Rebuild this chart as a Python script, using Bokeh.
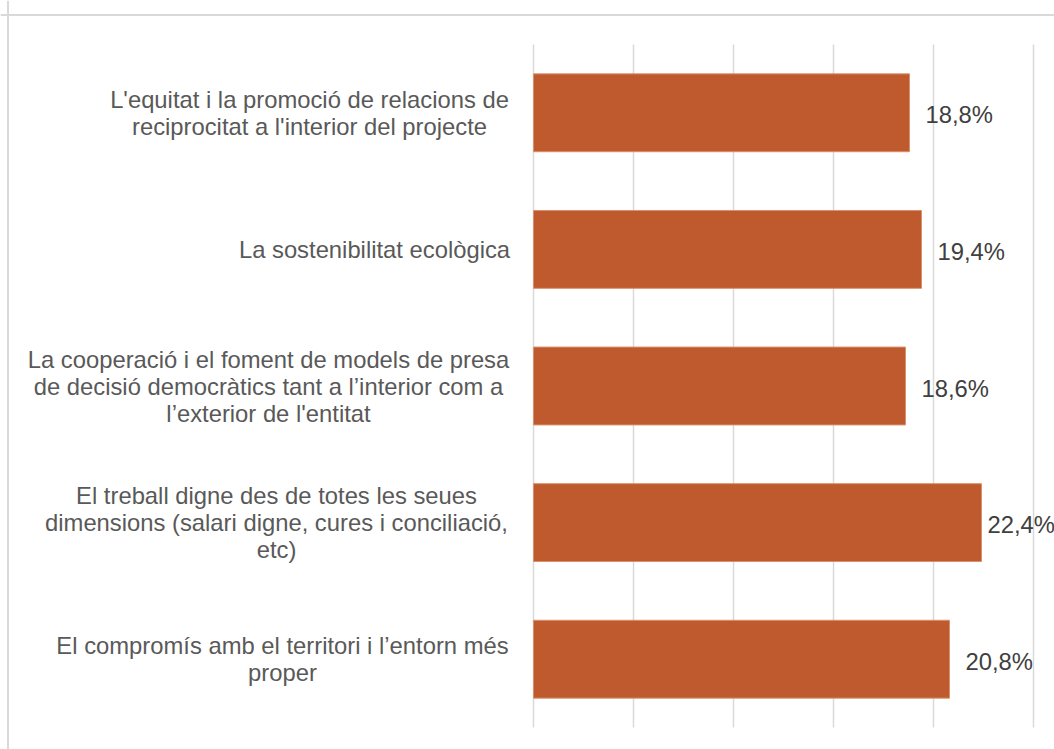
from bokeh.plotting import figure
from bokeh.models import Range1d, Span, ColumnDataSource
from bokeh.core.properties import value
from bokeh.embed import file_html
from bokeh.resources import INLINE

# ---- data ----
categories = [
    "L'equitat i la promoció de relacions de\nreciprocitat a l'interior del projecte",
    "La sostenibilitat ecològica",
    "La cooperació i el foment de models de presa\nde decisió democràtics tant a l’interior com a\nl’exterior de l'entitat",
    "El treball digne des de totes les seues\ndimensions (salari digne, cures i conciliació,\netc)",
    "El compromís amb el territori i l’entorn més\nproper",
]
values = [18.8, 19.4, 18.6, 22.4, 20.8]
value_labels = ["18,8%", "19,4%", "18,6%", "22,4%", "20,8%"]
grid_ticks = [0, 5, 10, 15, 20, 25]

# ---- layout (pixels on the canvas) ----
W, H = 1054, 749
X0_PX = 533          # canvas x of 0%
PX_PER_UNIT_X = 20.0 # pixels per percentage point
PLOT_TOP_PX, PLOT_BOT_PX = 44, 727
n = len(categories)
PX_PER_CAT = (PLOT_BOT_PX - PLOT_TOP_PX) / n

x_start = -X0_PX / PX_PER_UNIT_X
x_end = (W - X0_PX) / PX_PER_UNIT_X
y_top = -0.5 - PLOT_TOP_PX / PX_PER_CAT
y_bot = (n - 0.5) + (H - PLOT_BOT_PX) / PX_PER_CAT

def px_to_x(px):
    return (px - X0_PX) / PX_PER_UNIT_X

# horizontal centres of the category label blocks (canvas px)
label_center_px = [309, 374, 268, 276, 282]
# gap between bar end and its value label (px); Excel pulls the widest one in
label_gap_px = [16, 16, 16, 6, 16]

idx = list(range(n))

p = figure(width=W, height=H, output_backend="svg", toolbar_location=None,
           x_range=Range1d(x_start, x_end), y_range=Range1d(y_bot, y_top),
           min_border=0, min_border_left=0, min_border_right=0,
           min_border_top=0, min_border_bottom=0)
p.axis.visible = False
p.grid.visible = False
p.outline_line_color = None
p.background_fill_color = "white"
p.border_fill_color = "white"

# gridlines spanning the category area
p.segment(x0=grid_ticks, x1=grid_ticks, y0=[-0.5] * len(grid_ticks),
          y1=[n - 0.5] * len(grid_ticks), line_color="#d9d9d9", line_width=1.5)

src = ColumnDataSource(dict(y=idx, v=values, lab=value_labels, cat=categories,
                            gap=label_gap_px,
                            cx=[px_to_x(c) for c in label_center_px]))

p.hbar(y="y", left=0, right="v", height=0.57, source=src,
       fill_color="#BE5A2E", line_color="#D9916B", line_width=1)

p.text(x="v", y="y", text="lab", source=src, x_offset="gap", y_offset=2,
       text_align="left", text_baseline="middle",
       text_font=value("Liberation Sans"), text_font_size="23.8px",
       text_color="#404040")

p.text(x="cx", y="y", text="cat", source=src,
       text_align="center", text_baseline="middle",
       text_font=value("Liberation Sans"), text_font_size="23.8px",
       text_line_height=1.0, text_color="#595959")

# chart border (top and left edges visible in the window)
p.add_layout(Span(location=y_top + 14.5 / PX_PER_CAT, dimension="width",
                  line_color="#d9d9d9", line_width=2))
p.add_layout(Span(location=x_start + 7.5 / PX_PER_UNIT_X, dimension="height",
                  line_color="#d9d9d9", line_width=2))

open("out.html", "w").write(file_html(p, INLINE))
